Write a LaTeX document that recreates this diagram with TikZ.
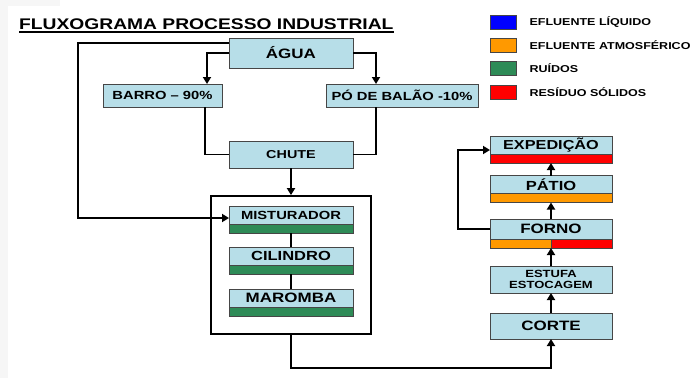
\documentclass[tikz,border=0pt]{standalone}
\usepackage{fontspec}
\setmainfont[FakeStretch=1.25]{Liberation Sans}
\usetikzlibrary{arrows.meta, positioning}
\definecolor{boxcyan}{RGB}{183, 222, 232}
\definecolor{boxline}{RGB}{70, 70, 70}
\definecolor{noisegreen}{RGB}{46, 139, 87}
\definecolor{atmorange}{RGB}{255, 153, 0}
\definecolor{solidred}{RGB}{255, 0, 0}
\definecolor{liqblue}{RGB}{0, 0, 255}

\begin{document}
\begin{tikzpicture}[
        x=1pt, y=-1pt,
        box/.style={draw=boxline, line width=0.8pt, fill=boxcyan, inner sep=0pt, outer sep=0pt,
                    minimum width=124pt, align=center, font=\bfseries\fontsize{#1}{#1}\selectfont},
        box/.default=12,
        band/.style={draw=boxline, line width=0.8pt, inner sep=0pt, outer sep=0pt,
                     minimum width=124pt, minimum height=9pt},
        arrow/.style={-{Triangle[length=7pt,width=8pt]}, line width=1.8pt},
        conn/.style={line width=1.8pt},
        legsq/.style={draw=boxline, line width=0.8pt, minimum width=26pt, minimum height=14pt, inner sep=0pt},
        legtxt/.style={inner sep=0pt, anchor=west, font=\bfseries\fontsize{10}{12}\selectfont}
      ]
        \useasboundingbox[fill=white] (0,0) rectangle (694,378);
        \fill[gray!7] (0,0) rectangle (8,378);
        \fill[gray!7] (0,0) rectangle (60,6);
        % title
        \node[anchor=base west, inner sep=0pt, font=\bfseries\fontsize{15.4}{16}\selectfont]
              (title) at (19,29) {FLUXOGRAMA PROCESSO INDUSTRIAL};
        \draw[line width=1.2pt] ([yshift=-3pt]title.base west) -- ([yshift=-3pt]title.base east);
        % legend
        \node[legsq, fill=liqblue] (sqliq) at (503,22) {};
        \node[legsq, fill=atmorange] (sqatm) at (503,45.5) {};
        \node[legsq, fill=noisegreen] (sqnoise) at (503,68.5) {};
        \node[legsq, fill=solidred] (sqsol) at (503,92) {};
        \node[legtxt, right=13pt of sqliq] (txliq) {EFLUENTE LÍQUIDO};
        \node[legtxt, right=13pt of sqatm] (txatm) {EFLUENTE ATMOSFÉRICO};
        \node[legtxt, right=13pt of sqnoise] (txnoise) {RUÍDOS};
        \node[legtxt, right=13pt of sqsol] (txsol) {RESÍDUO SÓLIDOS};
        % left part
        \node[box=13.6, minimum height=30pt] (agua) at (291,53) {ÁGUA};
        \node[box=11.8, minimum width=119pt, minimum height=23pt] (barro) at (162.5,95.5) {BARRO – 90\%};
        \node[box=11.8, minimum width=152pt, minimum height=23pt] (po) at (402,95.5) {PÓ DE BALÃO -10\%};
        \node[box=11.5, minimum height=27pt] (chute) at (291,154.5) {CHUTE};
        \node[draw, line width=1.8pt, minimum width=160pt, minimum height=138pt] (frame) at (291,265) {};
        \node[box=11.8, minimum height=18pt] (mist) at (291,215) {MISTURADOR};
        \node[band, fill=noisegreen, below=0pt of mist] (mistb) {};
        \node[box=13.2, minimum height=18pt] (cil) at (291,256) {CILINDRO};
        \node[band, fill=noisegreen, below=0pt of cil] (cilb) {};
        \node[box=13.6, minimum height=18pt] (mar) at (291,298) {MAROMBA};
        \node[band, fill=noisegreen, below=0pt of mar] (marb) {};
        % right part
        \node[box=13, minimum width=122pt, minimum height=18pt] (exped) at (551,145) {EXPEDIÇÃO};
        \node[band, minimum width=122pt, fill=solidred, below=0pt of exped] (expedb) {};
        \node[box=13.2, minimum width=122pt, minimum height=18pt] (patio) at (551,184.5) {PÁTIO};
        \node[band, minimum width=122pt, fill=atmorange, below=0pt of patio] (patiob) {};
        \node[box=13.6, minimum width=122pt, minimum height=20pt] (forno) at (551,229) {FORNO};
        \node[band, minimum width=122pt, fill=atmorange, below=0pt of forno] (fornob) {};
        \draw[draw=boxline, line width=0.8pt, fill=solidred] (fornob.north) rectangle (fornob.south east);
        \node[box=10.4, minimum width=122pt, minimum height=27pt] (estufa) at (551,279.5)
              {\fontsize{10.4}{11}\selectfont ESTUFA\\ESTOCAGEM};
        \node[box=13.6, minimum width=122pt, minimum height=26pt] (corte) at (551,326) {CORTE};
        % connectors
        \draw[arrow] (agua.west) -| ([xshift=44.5pt]barro.north);
        \draw[arrow] (agua.east) -| ([xshift=-26pt]po.north);
        \draw[conn] ([xshift=42.5pt]barro.south) |- (chute.west);
        \draw[conn] ([xshift=-26pt]po.south) |- (chute.east);
        \draw[arrow] ([yshift=10pt]agua.west) -- ++(-151,0) |- ([yshift=-3pt]mist.west);
        \draw[arrow] (chute) -- (frame);
        \draw[conn] (mistb) -- (cil);
        \draw[conn] (cilb) -- (mar);
        \draw[arrow] (frame.south) -- ++(0,33) -| (corte.south);
        \draw[arrow] (corte) -- (estufa);
        \draw[arrow] (estufa) -- (fornob);
        \draw[arrow] (forno) -- (patiob);
        \draw[arrow] (patio) -- (expedb);
        \draw[arrow] (forno.west) -- ++(-32,0) |- ([yshift=-5pt]exped.west);
      \end{tikzpicture}
\end{document}
